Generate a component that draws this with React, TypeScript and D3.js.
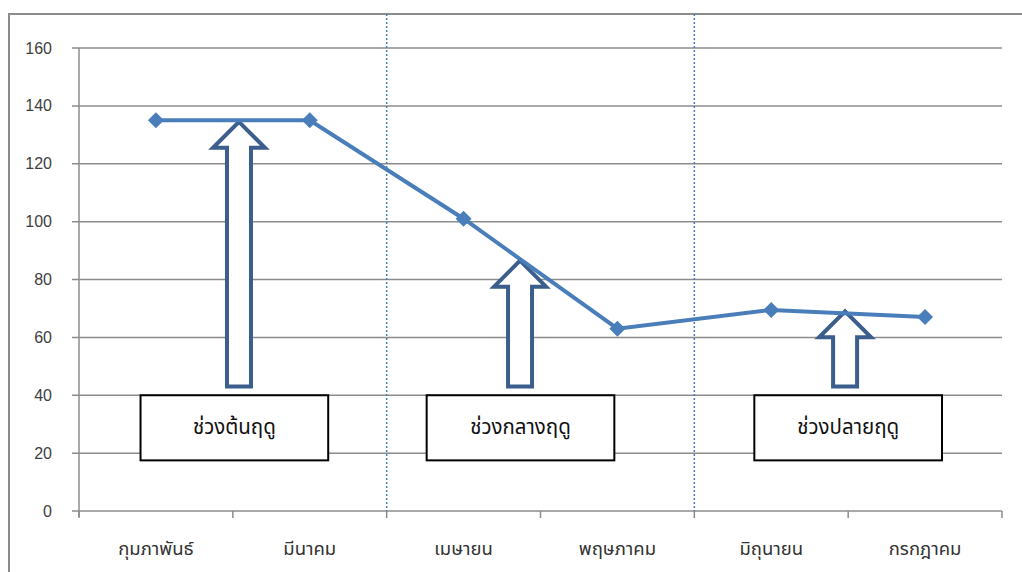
import React from 'react';
import * as d3 from 'd3';

const months = ['กุมภาพันธ์', 'มีนาคม', 'เมษายน', 'พฤษภาคม', 'มิถุนายน', 'กรกฎาคม'];
const values = [135, 135, 101, 63, 69.5, 67];
const yTicks = [0, 20, 40, 60, 80, 100, 120, 140, 160];

// season boxes: label, span in category units, arrow centre and tip value
const seasonLabels = ['ช่วงต้นฤดู', 'ช่วงกลางฤดู', 'ช่วงปลายฤดู'];
const seasonFrom = [0.4, 2.26, 4.39];
const seasonTo = [1.62, 3.48, 5.61];
const arrowAt = [1.04, 2.867, 4.98];
const arrowTip = [134.5, 86.5, 69];
const seasonSplits = [2, 4];

const W = 1022;
const H = 572;
const FONT = '"Liberation Sans", Arial, "Noto Sans Thai", "Noto Sans", "DejaVu Sans", sans-serif';

export default function App() {
  const x = d3.scaleBand<string>().domain(months).range([79, 1002]).paddingInner(0).paddingOuter(0);
  const xi = d3.scaleLinear().domain([0, months.length]).range([79, 1002]);
  const y = d3.scaleLinear().domain([0, 160]).range([511, 48]);

  const line = d3
    .line<number>()
    .x((_, i) => (x(months[i]) ?? 0) + x.bandwidth() / 2)
    .y((d) => y(d));

  const arrowPath = (cx: number, tipY: number, baseY: number) => {
    const sw = 12; // half shaft
    const hw = 26; // half head
    const hh = 26; // head height
    return `M${cx},${tipY} L${cx + hw},${tipY + hh} L${cx + sw},${tipY + hh} L${cx + sw},${baseY} L${cx - sw},${baseY} L${cx - sw},${tipY + hh} L${cx - hw},${tipY + hh} Z`;
  };

  const boundaries = d3.range(months.length + 1).map((i) => xi(i));

  return (
    <svg
      width={W}
      height={H}
      style={{ position: 'absolute', left: 0, top: 0, background: '#fff' }}
      fontFamily={FONT}
    >
      <rect x={9} y={14} width={1040} height={600} fill="#fff" stroke="#8c8c8c" strokeWidth={2} />

      {/* grid */}
      {yTicks.map((t) => (
        <g key={t}>
          <line x1={72} x2={1002} y1={y(t)} y2={y(t)} stroke="#8c8c8c" strokeWidth={1.5} />
          <text x={52} y={y(t)} dy="0.35em" textAnchor="end" fontSize={16} fill="#404040">
            {t}
          </text>
        </g>
      ))}
      <line x1={79} x2={79} y1={48} y2={517} stroke="#8c8c8c" strokeWidth={1.5} />
      {boundaries.map((b, i) => (
        <line key={i} x1={b} x2={b} y1={511} y2={518} stroke="#8c8c8c" strokeWidth={1.5} />
      ))}
      {months.map((m) => (
        <text
          key={m}
          x={(x(m) ?? 0) + x.bandwidth() / 2}
          y={555}
          textAnchor="middle"
          fontSize={18.5}
          fill="#333"
        >
          {m}
        </text>
      ))}

      {/* season splits */}
      {seasonSplits.map((s) => (
        <line
          key={s}
          x1={xi(s)}
          x2={xi(s)}
          y1={14}
          y2={511}
          stroke="#4a7ebb"
          strokeWidth={1.5}
          strokeDasharray="2,2"
        />
      ))}

      {/* season boxes */}
      {seasonLabels.map((lab, i) => (
        <g key={lab}>
          <rect
            x={xi(seasonFrom[i])}
            y={y(40)}
            width={xi(seasonTo[i]) - xi(seasonFrom[i])}
            height={y(17.5) - y(40)}
            fill="#fff"
            stroke="#000"
            strokeWidth={2}
          />
          <text
            x={(xi(seasonFrom[i]) + xi(seasonTo[i])) / 2}
            y={(y(40) + y(17.5)) / 2}
            dy="0.3em"
            textAnchor="middle"
            fontSize={20.5}
            fill="#111"
          >
            {lab}
          </text>
        </g>
      ))}

      {/* arrows */}
      {arrowAt.map((a, i) => (
        <path
          key={i}
          d={arrowPath(xi(a), y(arrowTip[i]), y(43))}
          fill="#fff"
          stroke="#3b5e8c"
          strokeWidth={4}
          strokeLinejoin="miter"
        />
      ))}

      {/* series */}
      <path d={line(values) ?? ''} fill="none" stroke="#4a7ebb" strokeWidth={4} />
      {values.map((v, i) => {
        const cx = (x(months[i]) ?? 0) + x.bandwidth() / 2;
        const cy = y(v);
        const r = 8;
        return (
          <path
            key={i}
            d={`M${cx},${cy - r} L${cx + r},${cy} L${cx},${cy + r} L${cx - r},${cy} Z`}
            fill="#4a7ebb"
          />
        );
      })}
    </svg>
  );
}
